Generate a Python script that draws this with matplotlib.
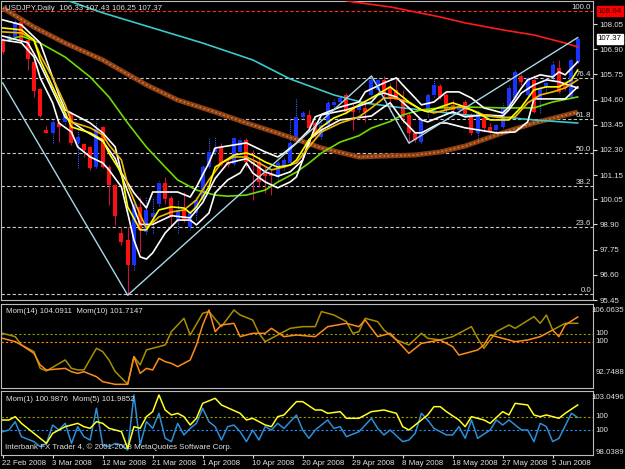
import matplotlib
matplotlib.use('Agg')
import matplotlib.pyplot as plt
from matplotlib import font_manager
from matplotlib.patches import Rectangle

W, H = 625, 469
BG = 'black'
TXT = '#e0e0e0'

# MT4 uses a small narrow font; take the narrow Liberation face if it is there
_names = {f.name for f in font_manager.fontManager.ttflist}
if 'Liberation Sans Narrow' in _names:
    plt.rcParams['font.family'] = ['Liberation Sans Narrow', 'DejaVu Sans']
    FS = 6.8
else:
    plt.rcParams['font.family'] = ['Liberation Sans', 'DejaVu Sans']
    FS = 5.7

# USDJPY daily, bar 0 = 22 Feb 2008 ... bar 92 = 9 Jun 2008
opens = [107.32, 107.32, 107.46, 108.14, 107.32, 106.32, 105.08, 103.21, 103.07, 103.53,
         103.58, 103.99, 102.61, 102.57, 102.43, 101.52, 103.35, 101.52, 100.70, 98.50,
         98.18, 97.04, 99.69, 98.55, 99.23, 99.83, 100.79, 100.10, 99.10, 99.55,
         98.78, 99.42, 100.01, 101.52, 102.20, 102.43, 101.75, 101.66, 102.20, 102.75,
         101.75, 101.75, 101.24, 101.20, 101.06, 101.52, 101.70, 102.84, 103.80, 103.90,
         103.53, 102.89, 103.44, 104.35, 104.49, 104.81, 104.22, 104.13, 104.22, 104.81,
         105.04, 105.50, 105.13, 105.04, 104.58, 103.90, 103.07, 102.66, 104.03, 104.81,
         105.22, 104.81, 104.35, 104.13, 104.49, 103.90, 103.07, 103.76, 103.35, 103.21,
         103.35, 104.26, 104.67, 105.68, 104.81, 105.50, 104.58, 105.17, 105.63, 106.04,
         105.27, 104.72, 106.33]
highs = [107.41, 107.64, 108.28, 108.24, 107.41, 106.41, 105.13, 103.39, 103.67, 103.58,
         104.13, 104.03, 103.30, 102.61, 102.48, 103.62, 103.39, 101.61, 100.74, 98.78,
         98.78, 99.87, 100.15, 100.15, 100.15, 100.88, 101.06, 100.19, 100.01, 100.38,
         99.51, 100.15, 101.61, 102.89, 102.89, 102.61, 101.84, 102.89, 102.84, 102.84,
         102.29, 101.97, 101.52, 101.38, 101.84, 101.97, 103.76, 104.67, 104.08, 104.13,
         103.62, 103.58, 104.58, 104.67, 104.81, 104.90, 104.44, 104.58, 104.58, 105.68,
         105.59, 105.68, 105.36, 105.59, 105.04, 103.99, 103.12, 103.76, 104.90, 105.59,
         105.31, 104.90, 104.58, 104.44, 104.58, 103.99, 104.13, 103.90, 103.53, 103.53,
         104.44, 105.27, 105.95, 105.77, 105.63, 105.72, 105.22, 105.63, 106.41, 106.41,
         105.36, 106.50, 107.43]
lows = [106.68, 107.23, 107.37, 107.23, 105.95, 104.72, 103.80, 103.07, 102.61, 102.66,
        103.49, 102.52, 101.47, 101.97, 101.38, 101.47, 101.47, 99.78, 98.87, 97.95,
        95.67, 96.81, 97.63, 98.46, 98.50, 99.74, 99.83, 98.78, 98.50, 99.00,
        98.64, 99.10, 99.92, 101.47, 102.11, 101.57, 101.52, 101.61, 102.11, 101.52,
        100.01, 100.60, 100.33, 100.24, 100.93, 101.38, 101.61, 102.75, 103.71, 103.12,
        102.89, 102.80, 103.35, 104.26, 104.40, 103.94, 103.21, 104.03, 103.58, 104.72,
        104.95, 104.58, 104.03, 104.58, 103.53, 102.61, 102.66, 102.61, 103.80, 104.72,
        104.62, 103.99, 103.99, 104.03, 103.80, 102.98, 102.84, 103.12, 103.07, 103.12,
        103.30, 104.22, 104.58, 105.27, 104.67, 103.99, 103.99, 104.95, 105.50, 104.90,
        105.04, 104.67, 106.25]
closes = [106.77, 107.50, 108.14, 107.32, 106.45, 104.99, 103.85, 103.07, 103.58, 103.35,
          103.99, 102.61, 102.89, 102.29, 101.47, 103.26, 101.52, 100.70, 99.28, 98.09,
          97.04, 99.83, 98.64, 99.55, 99.42, 100.79, 100.06, 99.23, 99.55, 99.10,
          99.42, 100.01, 101.52, 102.20, 102.39, 101.61, 101.61, 102.84, 102.75, 101.75,
          101.66, 100.83, 101.11, 101.11, 101.70, 101.84, 102.61, 103.80, 103.99, 103.30,
          102.98, 103.44, 104.44, 104.49, 104.67, 104.03, 104.03, 104.35, 104.03, 105.50,
          105.50, 104.90, 104.72, 104.58, 103.80, 103.07, 102.75, 103.67, 104.81, 105.27,
          104.72, 104.13, 104.13, 104.31, 103.90, 103.07, 104.03, 103.30, 103.12, 103.44,
          104.26, 105.13, 105.86, 105.41, 105.59, 104.03, 105.13, 105.36, 106.18, 104.95,
          105.13, 106.41, 107.37]

date_bars = [0, 8, 16, 24, 32, 40, 48, 56, 64, 72, 80, 88]
date_labels = ['22 Feb 2008', '3 Mar 2008', '12 Mar 2008', '21 Mar 2008', '1 Apr 2008',
               '10 Apr 2008', '20 Apr 2008', '29 Apr 2008', '8 May 2008', '18 May 2008',
               '27 May 2008', '5 Jun 2008']

price_ticks = [108.05, 106.90, 105.75, 104.60, 103.45, 102.30, 101.15, 100.05,
               98.90, 97.75, 96.60, 95.45]

fib_levels = ['100.0', '76.4', '61.8', '50.0', '38.2', '23.6', '0.0']
fib_prices = [108.64, 105.59, 103.70, 102.18, 100.66, 98.77, 95.72]

# indicator lines on the price chart: (bar, price) points
red_bars = [52, 56, 62, 70, 74, 80, 85, 90, 92]
red_ma = [109.30, 109.06, 108.83, 108.37, 108.10, 107.78, 107.55, 107.18, 107.00]

cyan_bars = [8, 11, 16, 24, 32, 40, 46, 53, 58, 64, 70, 74, 80, 85, 92]
cyan_ma = [109.35, 109.06, 108.56, 107.87, 107.18, 106.41, 105.54, 104.81, 104.44,
           104.22, 104.03, 103.90, 103.80, 103.67, 103.53]

brown_bars = [0, 5, 10, 16, 23, 28, 34, 39, 44, 51, 57, 62, 66, 70, 74, 80, 85, 92]
brown_ma = [108.78, 107.91, 107.18, 106.41, 105.27, 104.58, 104.03, 103.53, 103.07,
            102.39, 101.98, 102.03, 102.07, 102.21, 102.48, 103.08, 103.53, 104.03]

green_bars = [1, 3, 6, 10, 14, 17, 20, 23, 26, 28, 31, 34, 36, 39, 42, 44, 47, 49, 51,
              54, 57, 59, 62, 64, 67, 70, 74, 80, 85, 88, 92]
green_ma = [107.32, 107.50, 107.18, 106.54, 105.63, 104.72, 103.53, 102.43, 101.52,
            100.93, 100.47, 100.24, 100.19, 100.24, 100.47, 100.83, 101.29, 101.70,
            102.16, 102.66, 102.95, 103.30, 103.60, 103.90, 104.13, 104.22, 104.26,
            104.22, 104.22, 104.49, 104.72]

wu_bars = [0, 3, 6, 9, 10, 14, 16, 18, 19, 21, 23, 24, 28, 30, 31, 33, 34, 39, 42, 44,
           45, 47, 49, 50, 54, 57, 58, 61, 63, 64, 66, 67, 69, 71, 73, 75, 77, 80, 81,
           83, 84, 86, 88, 89, 90, 92]
wu = [108.24, 108.01, 107.19, 104.81, 104.13, 103.53, 103.08, 102.44, 101.25, 100.34,
      99.65, 100.38, 100.38, 100.15, 100.61, 101.71, 102.39, 102.62, 102.21, 101.98,
      102.16, 102.62, 103.21, 103.81, 104.26, 104.49, 104.95, 105.36, 105.59, 105.27,
      104.67, 104.36, 104.49, 104.95, 104.95, 104.67, 104.22, 103.99, 104.26, 105.13,
      105.50, 105.73, 105.63, 105.86, 105.73, 106.32]

wl_bars = [0, 3, 5, 6, 8, 9, 11, 12, 14, 16, 17, 19, 20, 21, 22, 23, 24, 26, 28, 30,
           31, 33, 34, 36, 38, 39, 40, 42, 44, 46, 47, 48, 49, 51, 54, 59, 61, 62, 64,
           66, 67, 70, 71, 74, 79, 82, 84, 85, 90, 92]
wl = [107.32, 107.19, 106.55, 105.59, 104.45, 103.53, 103.12, 102.44, 101.98, 101.71,
      101.39, 100.61, 99.42, 98.19, 97.42, 97.32, 97.60, 98.51, 99.10, 99.10,
      98.88, 99.42, 100.34, 100.93, 101.25, 101.71, 101.25, 100.84, 100.57, 100.84,
      101.07, 101.84, 102.76, 103.21, 103.67, 103.85, 104.26, 104.45, 103.67,
      103.08, 103.08, 103.53, 103.53, 103.31, 103.08, 103.12, 103.58, 104.63, 104.63, 105.18]

wm_bars = [0, 4, 6, 8, 10, 13, 16, 18, 20, 22, 24, 27, 30, 32, 34, 36, 39, 42, 44, 46,
           48, 50, 51, 55, 59, 60, 61, 63, 65, 67, 68, 70, 72, 74, 77, 80, 81, 83, 85,
           87, 89, 92]
wm = [107.50, 107.20, 106.20, 105.00, 103.80, 103.20, 102.70, 101.90, 100.40, 98.90,
      98.90, 99.30, 99.20, 99.90, 101.00, 101.70, 101.90, 101.30, 101.10, 101.30,
      101.84, 103.35, 103.90, 104.13, 104.49, 104.81, 104.90, 104.72, 104.22, 103.67,
      103.58, 103.81, 104.04, 103.81, 103.90, 103.85, 104.13, 104.90, 105.27, 105.50,
      105.41, 105.13]

y1_bars = [0, 3, 5, 6, 8, 10, 11, 14, 16, 17, 19, 20, 22, 23, 24, 25, 27, 29, 30, 31,
           33, 34, 37, 39, 40, 42, 44, 46, 47, 49, 51, 53, 55, 57, 59, 62, 63, 65, 67,
           68, 70, 72, 74, 76, 78, 81, 83, 85, 87, 89, 91, 92]
y1 = [107.87, 107.78, 107.32, 106.41, 105.18, 103.99, 103.35, 103.08, 102.76, 102.16,
      101.25, 99.70, 98.65, 98.65, 99.10, 99.56, 99.70, 99.65, 99.42, 99.70,
      100.61, 101.52, 102.07, 102.16, 102.07, 101.75, 101.52, 101.61, 101.84, 102.76,
      103.35, 103.76, 103.99, 104.36, 104.67, 105.18, 104.95, 104.49, 104.13, 104.04,
      104.26, 104.45, 104.26, 103.99, 103.67, 103.67, 104.26, 105.04, 105.18, 105.18,
      105.50, 105.95]

y2_bars = [0, 3, 5, 6, 8, 10, 11, 14, 16, 17, 19, 20, 22, 23, 25, 27, 29, 31, 33, 35,
           37, 39, 41, 43, 45, 47, 49, 51, 54, 57, 59, 61, 63, 65, 67, 69, 71, 73, 75,
           77, 80, 82, 84, 86, 88, 90, 92]
y2 = [107.69, 107.64, 107.32, 106.64, 105.59, 104.36, 103.58, 103.31, 102.99, 102.53,
      101.84, 100.70, 99.33, 98.74, 99.24, 99.47, 99.56, 100.02, 100.93, 101.71,
      101.98, 101.98, 101.71, 101.39, 101.52, 101.71, 102.44, 103.12, 103.53, 103.81,
      104.22, 104.67, 104.67, 104.45, 104.13, 103.99, 104.13, 104.26, 104.13, 103.90,
      103.76, 103.81, 104.45, 104.81, 104.95, 105.13, 105.50]

zz_bars = [0, 20, 59, 65, 92]
zz = [105.36, 95.67, 105.68, 102.61, 107.43]

# Mom(14) orange / Mom(10) olive
m14_bars = [0, 2, 3, 5, 6, 7, 10, 11, 12, 13, 15, 16, 18, 20, 21, 22, 23, 24, 25, 26,
            27, 28, 30, 31, 32, 33, 34, 35, 37, 38, 40, 42, 43, 45, 47, 50, 52, 55, 57,
            58, 60, 62, 65, 67, 70, 72, 73, 75, 76, 77, 78, 80, 82, 84, 86, 88, 89, 90, 92]
m14 = [100.58, 100.04, 99.49, 98.12, 96.20, 95.38, 95.65, 95.10, 94.83, 95.10,
       94.28, 93.46, 93.02, 93.02, 97.57, 94.83, 95.65, 95.38, 97.30, 96.75,
       96.47, 95.93, 97.02, 99.49, 102.78, 105.24, 101.68, 102.78, 103.05, 100.86,
       101.41, 101.41, 102.23, 100.86, 101.13, 100.86, 102.50, 103.05, 102.50,
       103.60, 100.86, 101.41, 98.12, 99.76, 100.31, 99.21, 97.84, 98.39, 98.67,
       99.49, 101.13, 100.58, 100.04, 100.31, 100.86, 101.95, 100.86, 102.78, 104.09]
m10_bars = [0, 2, 3, 5, 6, 7, 10, 11, 12, 13, 15, 16, 17, 18, 20, 21, 22, 23, 26, 27,
            29, 30, 32, 33, 35, 37, 38, 40, 41, 42, 43, 46, 48, 50, 51, 53, 55, 56, 57,
            58, 60, 61, 63, 65, 67, 68, 70, 72, 75, 76, 77, 79, 81, 82, 85, 86, 87, 88, 90, 92]
m10 = [100.11, 99.58, 98.25, 97.18, 94.51, 94.09, 95.85, 94.51, 94.25, 94.25,
       97.71, 97.18, 95.85, 93.98, 91.96, 96.38, 95.05, 97.45, 98.25, 100.38,
       102.51, 99.84, 103.31, 103.59, 101.18, 103.84, 103.04, 102.24, 100.11, 98.78,
       99.31, 100.91, 101.18, 101.18, 103.59, 103.04, 101.98, 100.11, 100.38, 102.51,
       101.98, 100.64, 99.05, 98.25, 100.11, 99.31, 99.05, 99.58, 101.18, 99.31,
       97.71, 100.38, 101.44, 100.91, 102.78, 101.71, 103.04, 100.64, 101.71, 101.71]

# Mom(1) blue / Mom(5) yellow
m1_bars = [0, 1, 2, 3, 5, 6, 7, 8, 9, 10, 11, 12, 13, 14, 15, 16, 17, 18, 19, 20, 21,
           22, 23, 24, 25, 26, 27, 28, 29, 30, 31, 32, 33, 34, 35, 36, 37, 38, 39, 40,
           41, 42, 43, 44, 45, 47, 48, 49, 50, 52, 53, 54, 55, 57, 59, 60, 61, 62, 64,
           65, 66, 67, 68, 69, 71, 72, 73, 74, 75, 76, 78, 79, 80, 81, 83, 84, 85, 86,
           87, 88, 89, 91, 92]
m1 = [99.84, 99.98, 100.65, 99.44, 99.04, 98.63, 98.90, 100.38, 99.98, 100.52,
      98.90, 100.25, 99.44, 99.17, 101.73, 98.77, 98.63, 98.90, 98.77, 98.36,
      102.81, 98.77, 100.65, 100.11, 101.33, 99.31, 99.04, 100.52, 99.58, 100.11,
      100.52, 101.73, 100.65, 100.25, 99.17, 100.25, 100.38, 99.84, 99.04, 99.98,
      99.17, 100.25, 99.98, 100.52, 100.11, 101.19, 99.98, 99.31, 99.98, 100.79,
      100.11, 100.25, 99.44, 99.84, 100.92, 100.11, 99.58, 99.98, 99.04, 99.17,
      99.71, 101.33, 100.79, 100.11, 99.58, 99.58, 100.25, 99.31, 100.79, 99.31,
      99.98, 100.79, 100.38, 100.79, 99.98, 99.98, 99.04, 100.52, 100.25, 99.04,
      99.31, 101.33, 100.99]
m5_bars = [0, 1, 2, 3, 5, 7, 8, 10, 12, 13, 14, 15, 16, 17, 19, 20, 21, 22, 23, 24, 25,
           26, 27, 28, 29, 30, 31, 32, 34, 35, 38, 39, 40, 42, 43, 44, 45, 47, 48, 50,
           51, 52, 54, 55, 57, 59, 61, 63, 64, 65, 66, 68, 69, 70, 71, 73, 74, 75, 77,
           78, 80, 81, 82, 84, 85, 86, 87, 89, 90, 92]
m5 = [99.51, 99.51, 100.06, 98.96, 97.31, 95.66, 97.31, 98.41, 98.96, 98.41,
      98.14, 99.24, 98.96, 98.14, 97.59, 94.84, 98.41, 98.14, 100.06, 100.89,
      103.64, 101.16, 100.34, 100.61, 100.06, 98.69, 99.79, 102.26, 103.09, 101.99,
      100.61, 99.51, 99.79, 98.69, 98.41, 100.06, 100.34, 102.54, 102.54, 101.16,
      101.16, 100.61, 100.89, 99.79, 99.79, 100.89, 101.16, 100.61, 98.41, 97.86,
      98.69, 100.34, 101.71, 101.71, 100.89, 99.51, 98.41, 100.06, 99.51, 98.96,
      100.89, 100.34, 102.26, 101.99, 100.34, 100.06, 100.34, 99.79, 100.61, 101.99]


fig = plt.figure(figsize=(W / 100, H / 100), dpi=100, facecolor=BG)


def px_axes(x0, y0, x1, y1):
    # axes placed by pixel box (top-left origin like the screenshot)
    a = fig.add_axes([x0 / W, 1 - y1 / H, (x1 - x0) / W, (y1 - y0) / H], facecolor=BG)
    for s in a.spines.values():
        s.set_color('#bdbdbd')
        s.set_linewidth(0.8)
    a.set_xlim(-0.27, 94.45)
    a.set_xticks([])
    return a


def twin(a, lo, hi):
    b = a.twinx()
    b.set_ylim(lo, hi)
    b.set_yticks([])
    b.set_xlim(a.get_xlim())
    for s in b.spines.values():
        s.set_visible(False)
    return b


def scale_labels(a, items):
    # right-hand scale texts of a sub-window; long ones are kept inside the picture
    for frac, s in items:
        if len(s) > 7:
            a.text(0.9985, frac, s, transform=fig.transFigure, ha='right', va='center',
                   color=TXT, fontsize=FS)
        else:
            a.text(1.004, frac, s, transform=a.transAxes, ha='left', va='center',
                   color=TXT, fontsize=FS)


# ---- price window
ax = px_axes(1, 1, 593, 300)
ax.set_ylim(95.45, 109.10)

for lvl, p in zip(fib_levels, fib_prices):
    col = '#ff2a2a' if lvl == '100.0' else '#c8c8c8'
    ax.axhline(p, color=col, lw=0.8, ls=(0, (3, 2)), zorder=1)
    ax.text(0.997, p, lvl, transform=ax.get_yaxis_transform(), ha='right', va='bottom',
            color=TXT, fontsize=FS, zorder=6)

for i in range(len(opens)):
    o, h, l, c = opens[i], highs[i], lows[i], closes[i]
    if c >= o:
        ax.vlines(i, l, h, color='#3a5cff', lw=0.8, linestyles=(0, (1, 1)), zorder=2)
        col = '#1a32ff'
    else:
        ax.vlines(i, l, h, color='#c8104a', lw=0.8, zorder=2)
        col = '#ff1010'
    lo, hi = min(o, c), max(o, c)
    ax.add_patch(Rectangle((i - 0.32, lo), 0.64, max(hi - lo, 0.05),
                           facecolor=col, edgecolor=col, lw=0, zorder=2))

ax.plot(brown_bars, brown_ma, color='#8b3f12', lw=3.6, zorder=3, solid_capstyle='butt')
ax.plot(brown_bars, brown_ma, color='#d07a40', lw=1.2, ls=(0, (1, 1.5)), zorder=3)
ax.plot(cyan_bars, cyan_ma, color='#3cc8c8', lw=1.2, zorder=3)
ax.plot(red_bars, red_ma, color='#ff1a1a', lw=1.2, zorder=3)
ax.plot(green_bars, green_ma, color='#6edc00', lw=1.2, zorder=3)
ax.plot(wl_bars, wl, color='white', lw=1.2, zorder=3)
ax.plot(wm_bars, wm, color='white', lw=1.2, zorder=3)
ax.plot(wu_bars, wu, color='white', lw=1.2, zorder=3)
ax.plot(y2_bars, y2, color='#f0b800', lw=1.2, zorder=3)
ax.plot(y1_bars, y1, color='#ffff00', lw=1.2, zorder=3)
ax.plot(zz_bars, zz, color='#a8d8e8', lw=1.0, zorder=4)

ax.yaxis.tick_right()
ax.set_yticks(price_ticks)
ax.set_yticklabels(['%.2f' % p for p in price_ticks])
ax.tick_params(axis='y', colors=TXT, labelsize=FS, length=3, width=0.8, pad=1.5)

ax.text(1.008, 108.64, '108.64', transform=ax.get_yaxis_transform(), ha='left', va='center',
        color='#300000', fontsize=FS, bbox=dict(facecolor='#ff0000', edgecolor='#ff0000', pad=0.8))
ax.text(1.008, 107.37, '107.37', transform=ax.get_yaxis_transform(), ha='left', va='center',
        color='black', fontsize=FS, bbox=dict(facecolor='white', edgecolor='white', pad=0.8))
ax.text(0.006, 0.975, 'USDJPY,Daily  106.33 107.43 106.25 107.37', transform=ax.transAxes,
        ha='left', va='center', color=TXT, fontsize=FS, zorder=6)

# ---- Mom(14) / Mom(10) window
ax1 = px_axes(1, 304, 593, 388)
ax1.set_ylim(91.36, 104.80)
ax1.set_yticks([])
ax1.axhline(100, color='#9a9a00', lw=0.8, ls=(0, (2, 2)))
ax1.plot(m10_bars, m10, color='#a89000', lw=1.1)
ax1b = twin(ax1, 92.42, 106.228)
ax1b.axhline(100, color='#ff8c00', lw=0.8, ls=(0, (2, 2)))
ax1b.plot(m14_bars, m14, color='#ff8c1a', lw=1.1)
ax1.text(0.008, 0.905, 'Mom(14) 104.0911  Mom(10) 101.7147', transform=ax1.transAxes,
         ha='left', va='center', color=TXT, fontsize=FS)
scale_labels(ax1, [(1 - 310 / H, '106.0635'), (0.643, '100'), (0.548, '100'),
                   (1 - 384 / H, '92.7488')])

# ---- Mom(1) / Mom(5) window
ax2 = px_axes(1, 391, 593, 455)
ax2.set_ylim(97.96, 103.13)
ax2.set_yticks([])
ax2.axhline(100, color='#1e90ff', lw=0.8, ls=(0, (2, 2)))
ax2.plot(m1_bars, m1, color='#2a8fd8', lw=1.1)
ax2b = twin(ax2, 93.735, 104.295)
ax2b.axhline(100, color='#9a9a00', lw=0.8, ls=(0, (2, 2)))
ax2b.plot(m5_bars, m5, color='#ffff20', lw=1.1)
ax2.text(0.008, 0.875, 'Mom(1) 100.9876  Mom(5) 101.9852', transform=ax2.transAxes,
         ha='left', va='center', color=TXT, fontsize=FS)
ax2.text(0.006, 0.125, 'Interbank FX Trader 4, \u00a9 2001-2008 MetaQuotes Software Corp.',
         transform=ax2.transAxes, ha='left', va='center', color=TXT, fontsize=FS, zorder=6)
scale_labels(ax2, [(1 - 397 / H, '103.0496'), (0.594, '100'), (0.39, '100'),
                   (1 - 448 / H, '98.0389')])

ax2.set_xticks(date_bars)
ax2.tick_params(axis='x', colors=TXT, length=2, width=0.8, labelbottom=False)
for b, s in zip(date_bars, date_labels):
    ax2.text(b - 0.1, -0.125, s, transform=ax2.get_xaxis_transform(), ha='left', va='center',
             color=TXT, fontsize=FS)

fig.savefig('out.png', dpi=100, facecolor=BG)
